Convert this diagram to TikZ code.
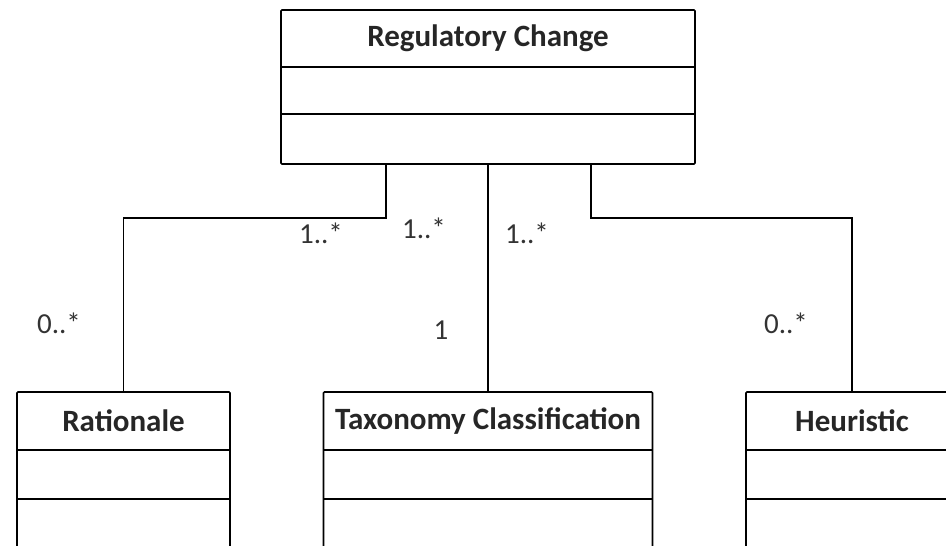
\documentclass[tikz,border=0pt]{standalone}
\usepackage{fontspec}
\setmainfont{Carlito}
\begin{document}
\begin{tikzpicture}[x=1pt,y=-1pt,line width=1.6pt]
\tikzset{
  classbox/.style={draw, line width=1.6pt, inner sep=0pt, outer sep=0pt, rounded corners=1pt},
  classtitle/.style={font=\bfseries\fontsize{31}{36}\selectfont, text=black!85},
  mult/.style={font=\fontsize{29}{34}\selectfont, text=black!80},
  conn/.style={draw, line width=1.6pt}
}
\useasboundingbox (0,0) rectangle (946,546);
\clip (0,0) rectangle (946,546);
% top class
\node[classbox, minimum width=414pt, minimum height=154pt] (rc) at (488,87) {};
\node[classtitle] (rct) at (488,38) {Regulatory Change};
\draw ([yshift=-57pt]rc.north west) -- ([yshift=-57pt]rc.north east);
\draw ([yshift=-104pt]rc.north west) -- ([yshift=-104pt]rc.north east);
% bottom classes
\node[classbox, minimum width=213pt, minimum height=200pt] (rat) at (123.5,492) {};
\node[classtitle] (ratt) at (123.5,421) {Rationale};
\node[classbox, minimum width=329pt, minimum height=200pt] (tax) at (488,492) {};
\node[classtitle] (taxt) at (488,421) {Taxonomy Classification};
\node[classbox, minimum width=212pt, minimum height=200pt] (heu) at (852,492) {};
\node[classtitle] (heut) at (852,421) {Heuristic};
\foreach \b in {rat,tax,heu}{
  \draw ([yshift=-58pt]\b.north west) -- ([yshift=-58pt]\b.north east);
  \draw ([yshift=-107pt]\b.north west) -- ([yshift=-107pt]\b.north east);
}
% connectors
\coordinate (jl) at (123.5,218);
\coordinate (jr) at (852,218);
\draw[conn] ([xshift=-102pt]rc.south) |- (jl) -- (rat.north);
\draw[conn] (rc.south) -- (tax.north);
\draw[conn] ([xshift=103pt]rc.south) |- (jr) -- (heu.north);
% multiplicities
\node[mult] (m1) at (321,233) {1..*};
\node[mult] (m2) at (424,228) {1..*};
\node[mult] (m3) at (527,233) {1..*};
\node[mult] (m4) at (59,323) {0..*};
\node[mult] (m5) at (441,330) {1};
\node[mult] (m6) at (786,323) {0..*};
\end{tikzpicture}
\end{document}
